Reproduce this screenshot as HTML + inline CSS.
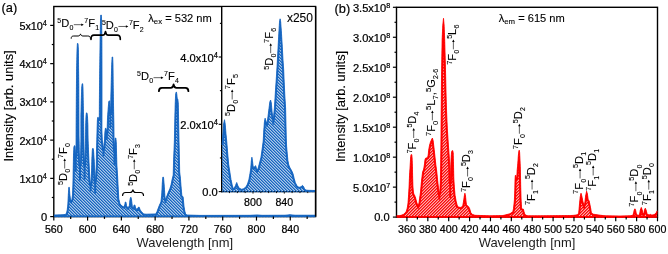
<!DOCTYPE html>
<html><head><meta charset="utf-8"><title>Spectra</title>
<style>html,body{margin:0;padding:0;background:#fff;}svg{display:block;will-change:transform;}text{font-family:"Liberation Sans", sans-serif;}</style>
</head><body>
<svg width="668" height="254" viewBox="0 0 668 254">
<defs>
<pattern id="hb" width="3" height="3" patternUnits="userSpaceOnUse" shape-rendering="crispEdges"><rect x="0" y="0" width="1.02" height="1.02" fill="rgb(21,101,192)"/><rect x="1" y="0" width="1.02" height="1.02" fill="rgba(21,101,192,0.684)"/><rect x="2" y="0" width="1.02" height="1.02" fill="rgba(21,101,192,0.363)"/><rect x="0" y="1" width="1.02" height="1.02" fill="rgba(21,101,192,0.363)"/><rect x="1" y="1" width="1.02" height="1.02" fill="rgb(21,101,192)"/><rect x="2" y="1" width="1.02" height="1.02" fill="rgba(21,101,192,0.684)"/><rect x="0" y="2" width="1.02" height="1.02" fill="rgba(21,101,192,0.684)"/><rect x="1" y="2" width="1.02" height="1.02" fill="rgba(21,101,192,0.363)"/><rect x="2" y="2" width="1.02" height="1.02" fill="rgb(21,101,192)"/></pattern>
<pattern id="hr" width="3" height="3" patternUnits="userSpaceOnUse" shape-rendering="crispEdges"><rect x="0" y="0" width="1.02" height="1.02" fill="rgb(250,10,10)"/><rect x="1" y="0" width="1.02" height="1.02" fill="rgba(250,10,10,0.714)"/><rect x="2" y="0" width="1.02" height="1.02" fill="rgba(250,10,10,0.347)"/><rect x="0" y="1" width="1.02" height="1.02" fill="rgba(250,10,10,0.714)"/><rect x="1" y="1" width="1.02" height="1.02" fill="rgba(250,10,10,0.347)"/><rect x="2" y="1" width="1.02" height="1.02" fill="rgb(250,10,10)"/><rect x="0" y="2" width="1.02" height="1.02" fill="rgba(250,10,10,0.347)"/><rect x="1" y="2" width="1.02" height="1.02" fill="rgb(250,10,10)"/><rect x="2" y="2" width="1.02" height="1.02" fill="rgba(250,10,10,0.714)"/></pattern>
</defs>
<rect width="668" height="254" fill="#fff"/>
<rect x="53.80" y="6.50" width="261.80" height="210.10" fill="none" stroke="#000000" stroke-width="1.4"/>
<clipPath id="cp1"><polygon points="54.0,217.3 54.0,215.0 62.0,214.8 65.5,214.4 66.5,213.0 67.2,210.0 67.8,205.0 68.3,195.0 68.8,187.3 69.3,187.3 69.9,195.0 70.5,199.5 71.2,200.4 71.9,199.5 72.5,195.0 72.9,185.0 73.2,170.0 73.5,155.0 73.9,147.0 74.3,145.8 75.0,145.8 75.3,150.0 75.7,157.0 76.0,150.0 76.1,130.0 76.3,100.0 76.6,70.0 77.0,50.0 77.4,43.5 78.0,43.5 78.4,50.0 78.6,70.0 78.8,85.0 78.9,110.0 79.0,135.0 79.3,152.0 80.0,165.7 80.6,155.0 80.9,140.0 80.9,115.0 81.3,100.0 81.7,88.0 82.1,83.8 82.7,83.8 83.0,88.0 83.2,100.0 83.5,115.0 83.8,135.0 84.1,152.0 84.6,164.8 85.1,155.0 85.5,140.0 85.7,125.0 86.0,116.0 86.4,112.9 87.0,112.9 87.5,117.0 87.9,125.0 88.1,140.0 88.6,153.0 89.2,166.0 89.7,176.0 90.2,182.0 90.6,184.6 91.1,180.0 91.6,170.0 91.9,158.0 92.3,150.0 92.6,148.5 93.2,148.5 93.6,151.0 94.2,160.0 94.7,172.0 95.2,181.4 95.7,175.0 96.3,165.0 96.5,150.0 96.8,140.0 97.1,128.0 97.4,120.0 97.7,117.4 98.3,117.4 98.8,119.5 99.3,117.0 99.4,100.0 99.7,70.0 100.1,40.0 100.5,20.0 100.8,15.0 101.3,15.0 101.6,20.0 101.9,40.0 102.0,80.0 102.0,110.0 101.9,130.0 102.3,140.0 103.5,149.5 104.5,140.0 104.9,132.0 105.4,128.3 106.0,128.3 106.4,130.0 106.8,133.0 107.2,128.0 107.5,118.0 108.2,108.0 108.8,101.5 109.2,100.7 109.6,101.0 110.0,106.0 110.4,113.0 110.7,106.0 110.9,95.0 111.3,80.0 111.7,65.0 112.1,57.0 112.7,57.0 113.0,65.0 113.2,85.0 113.5,105.0 113.9,125.0 114.1,140.0 114.5,150.0 114.8,143.0 115.2,138.1 115.9,138.1 116.3,143.0 116.6,155.0 116.9,165.0 117.6,176.0 118.2,188.0 118.8,199.0 119.9,203.5 121.2,205.3 122.9,206.5 124.0,207.0 124.8,204.5 125.3,202.0 125.9,202.0 126.5,205.5 127.8,208.0 129.3,206.0 130.0,199.5 130.5,197.5 131.1,197.5 131.7,201.0 132.4,207.0 133.3,208.0 134.1,205.0 134.9,205.0 135.6,208.0 137.0,209.5 138.4,207.2 139.2,207.2 140.0,209.5 141.5,211.8 143.8,213.9 146.0,214.2 155.7,213.9 157.0,211.5 158.0,208.7 159.5,205.0 160.9,202.0 161.7,195.0 162.3,183.0 162.8,177.2 163.5,177.2 164.1,184.0 164.9,196.0 165.4,199.7 166.3,197.5 168.0,193.0 169.9,188.5 171.0,185.0 172.0,180.0 173.2,175.0 173.6,160.0 174.4,140.0 174.9,115.0 175.2,104.0 175.6,95.0 176.0,92.2 176.5,92.2 176.9,95.0 177.3,99.2 177.9,99.2 178.3,104.0 178.6,120.0 179.0,140.0 179.7,172.0 180.4,178.0 181.0,186.0 181.9,196.0 183.1,196.7 183.6,202.0 184.1,207.0 184.8,211.0 185.6,214.0 187.0,215.0 200.0,215.4 250.0,215.3 257.0,214.9 262.0,215.3 285.0,215.2 290.0,214.7 295.0,215.2 315.6,215.2 315.6,217.3"/></clipPath>
<polygon points="54.0,217.3 54.0,215.0 62.0,214.8 65.5,214.4 66.5,213.0 67.2,210.0 67.8,205.0 68.3,195.0 68.8,187.3 69.3,187.3 69.9,195.0 70.5,199.5 71.2,200.4 71.9,199.5 72.5,195.0 72.9,185.0 73.2,170.0 73.5,155.0 73.9,147.0 74.3,145.8 75.0,145.8 75.3,150.0 75.7,157.0 76.0,150.0 76.1,130.0 76.3,100.0 76.6,70.0 77.0,50.0 77.4,43.5 78.0,43.5 78.4,50.0 78.6,70.0 78.8,85.0 78.9,110.0 79.0,135.0 79.3,152.0 80.0,165.7 80.6,155.0 80.9,140.0 80.9,115.0 81.3,100.0 81.7,88.0 82.1,83.8 82.7,83.8 83.0,88.0 83.2,100.0 83.5,115.0 83.8,135.0 84.1,152.0 84.6,164.8 85.1,155.0 85.5,140.0 85.7,125.0 86.0,116.0 86.4,112.9 87.0,112.9 87.5,117.0 87.9,125.0 88.1,140.0 88.6,153.0 89.2,166.0 89.7,176.0 90.2,182.0 90.6,184.6 91.1,180.0 91.6,170.0 91.9,158.0 92.3,150.0 92.6,148.5 93.2,148.5 93.6,151.0 94.2,160.0 94.7,172.0 95.2,181.4 95.7,175.0 96.3,165.0 96.5,150.0 96.8,140.0 97.1,128.0 97.4,120.0 97.7,117.4 98.3,117.4 98.8,119.5 99.3,117.0 99.4,100.0 99.7,70.0 100.1,40.0 100.5,20.0 100.8,15.0 101.3,15.0 101.6,20.0 101.9,40.0 102.0,80.0 102.0,110.0 101.9,130.0 102.3,140.0 103.5,149.5 104.5,140.0 104.9,132.0 105.4,128.3 106.0,128.3 106.4,130.0 106.8,133.0 107.2,128.0 107.5,118.0 108.2,108.0 108.8,101.5 109.2,100.7 109.6,101.0 110.0,106.0 110.4,113.0 110.7,106.0 110.9,95.0 111.3,80.0 111.7,65.0 112.1,57.0 112.7,57.0 113.0,65.0 113.2,85.0 113.5,105.0 113.9,125.0 114.1,140.0 114.5,150.0 114.8,143.0 115.2,138.1 115.9,138.1 116.3,143.0 116.6,155.0 116.9,165.0 117.6,176.0 118.2,188.0 118.8,199.0 119.9,203.5 121.2,205.3 122.9,206.5 124.0,207.0 124.8,204.5 125.3,202.0 125.9,202.0 126.5,205.5 127.8,208.0 129.3,206.0 130.0,199.5 130.5,197.5 131.1,197.5 131.7,201.0 132.4,207.0 133.3,208.0 134.1,205.0 134.9,205.0 135.6,208.0 137.0,209.5 138.4,207.2 139.2,207.2 140.0,209.5 141.5,211.8 143.8,213.9 146.0,214.2 155.7,213.9 157.0,211.5 158.0,208.7 159.5,205.0 160.9,202.0 161.7,195.0 162.3,183.0 162.8,177.2 163.5,177.2 164.1,184.0 164.9,196.0 165.4,199.7 166.3,197.5 168.0,193.0 169.9,188.5 171.0,185.0 172.0,180.0 173.2,175.0 173.6,160.0 174.4,140.0 174.9,115.0 175.2,104.0 175.6,95.0 176.0,92.2 176.5,92.2 176.9,95.0 177.3,99.2 177.9,99.2 178.3,104.0 178.6,120.0 179.0,140.0 179.7,172.0 180.4,178.0 181.0,186.0 181.9,196.0 183.1,196.7 183.6,202.0 184.1,207.0 184.8,211.0 185.6,214.0 187.0,215.0 200.0,215.4 250.0,215.3 257.0,214.9 262.0,215.3 285.0,215.2 290.0,214.7 295.0,215.2 315.6,215.2 315.6,217.3" fill="url(#hb)" stroke="none"/>
<polyline clip-path="url(#cp1)" points="54.0,215.0 62.0,214.8 65.5,214.4 66.5,213.0 67.2,210.0 67.8,205.0 68.3,195.0 68.8,187.3 69.3,187.3 69.9,195.0 70.5,199.5 71.2,200.4 71.9,199.5 72.5,195.0 72.9,185.0 73.2,170.0 73.5,155.0 73.9,147.0 74.3,145.8 75.0,145.8 75.3,150.0 75.7,157.0 76.0,150.0 76.1,130.0 76.3,100.0 76.6,70.0 77.0,50.0 77.4,43.5 78.0,43.5 78.4,50.0 78.6,70.0 78.8,85.0 78.9,110.0 79.0,135.0 79.3,152.0 80.0,165.7 80.6,155.0 80.9,140.0 80.9,115.0 81.3,100.0 81.7,88.0 82.1,83.8 82.7,83.8 83.0,88.0 83.2,100.0 83.5,115.0 83.8,135.0 84.1,152.0 84.6,164.8 85.1,155.0 85.5,140.0 85.7,125.0 86.0,116.0 86.4,112.9 87.0,112.9 87.5,117.0 87.9,125.0 88.1,140.0 88.6,153.0 89.2,166.0 89.7,176.0 90.2,182.0 90.6,184.6 91.1,180.0 91.6,170.0 91.9,158.0 92.3,150.0 92.6,148.5 93.2,148.5 93.6,151.0 94.2,160.0 94.7,172.0 95.2,181.4 95.7,175.0 96.3,165.0 96.5,150.0 96.8,140.0 97.1,128.0 97.4,120.0 97.7,117.4 98.3,117.4 98.8,119.5 99.3,117.0 99.4,100.0 99.7,70.0 100.1,40.0 100.5,20.0 100.8,15.0 101.3,15.0 101.6,20.0 101.9,40.0 102.0,80.0 102.0,110.0 101.9,130.0 102.3,140.0 103.5,149.5 104.5,140.0 104.9,132.0 105.4,128.3 106.0,128.3 106.4,130.0 106.8,133.0 107.2,128.0 107.5,118.0 108.2,108.0 108.8,101.5 109.2,100.7 109.6,101.0 110.0,106.0 110.4,113.0 110.7,106.0 110.9,95.0 111.3,80.0 111.7,65.0 112.1,57.0 112.7,57.0 113.0,65.0 113.2,85.0 113.5,105.0 113.9,125.0 114.1,140.0 114.5,150.0 114.8,143.0 115.2,138.1 115.9,138.1 116.3,143.0 116.6,155.0 116.9,165.0 117.6,176.0 118.2,188.0 118.8,199.0 119.9,203.5 121.2,205.3 122.9,206.5 124.0,207.0 124.8,204.5 125.3,202.0 125.9,202.0 126.5,205.5 127.8,208.0 129.3,206.0 130.0,199.5 130.5,197.5 131.1,197.5 131.7,201.0 132.4,207.0 133.3,208.0 134.1,205.0 134.9,205.0 135.6,208.0 137.0,209.5 138.4,207.2 139.2,207.2 140.0,209.5 141.5,211.8 143.8,213.9 146.0,214.2 155.7,213.9 157.0,211.5 158.0,208.7 159.5,205.0 160.9,202.0 161.7,195.0 162.3,183.0 162.8,177.2 163.5,177.2 164.1,184.0 164.9,196.0 165.4,199.7 166.3,197.5 168.0,193.0 169.9,188.5 171.0,185.0 172.0,180.0 173.2,175.0 173.6,160.0 174.4,140.0 174.9,115.0 175.2,104.0 175.6,95.0 176.0,92.2 176.5,92.2 176.9,95.0 177.3,99.2 177.9,99.2 178.3,104.0 178.6,120.0 179.0,140.0 179.7,172.0 180.4,178.0 181.0,186.0 181.9,196.0 183.1,196.7 183.6,202.0 184.1,207.0 184.8,211.0 185.6,214.0 187.0,215.0 200.0,215.4 250.0,215.3 257.0,214.9 262.0,215.3 285.0,215.2 290.0,214.7 295.0,215.2 315.6,215.2" fill="none" stroke="#1565c0" stroke-width="3.2" stroke-linejoin="round"/>
<polyline points="54.0,215.0 62.0,214.8 65.5,214.4 66.5,213.0 67.2,210.0 67.8,205.0 68.3,195.0 68.8,187.3 69.3,187.3 69.9,195.0 70.5,199.5 71.2,200.4 71.9,199.5 72.5,195.0 72.9,185.0 73.2,170.0 73.5,155.0 73.9,147.0 74.3,145.8 75.0,145.8 75.3,150.0 75.7,157.0 76.0,150.0 76.1,130.0 76.3,100.0 76.6,70.0 77.0,50.0 77.4,43.5 78.0,43.5 78.4,50.0 78.6,70.0 78.8,85.0 78.9,110.0 79.0,135.0 79.3,152.0 80.0,165.7 80.6,155.0 80.9,140.0 80.9,115.0 81.3,100.0 81.7,88.0 82.1,83.8 82.7,83.8 83.0,88.0 83.2,100.0 83.5,115.0 83.8,135.0 84.1,152.0 84.6,164.8 85.1,155.0 85.5,140.0 85.7,125.0 86.0,116.0 86.4,112.9 87.0,112.9 87.5,117.0 87.9,125.0 88.1,140.0 88.6,153.0 89.2,166.0 89.7,176.0 90.2,182.0 90.6,184.6 91.1,180.0 91.6,170.0 91.9,158.0 92.3,150.0 92.6,148.5 93.2,148.5 93.6,151.0 94.2,160.0 94.7,172.0 95.2,181.4 95.7,175.0 96.3,165.0 96.5,150.0 96.8,140.0 97.1,128.0 97.4,120.0 97.7,117.4 98.3,117.4 98.8,119.5 99.3,117.0 99.4,100.0 99.7,70.0 100.1,40.0 100.5,20.0 100.8,15.0 101.3,15.0 101.6,20.0 101.9,40.0 102.0,80.0 102.0,110.0 101.9,130.0 102.3,140.0 103.5,149.5 104.5,140.0 104.9,132.0 105.4,128.3 106.0,128.3 106.4,130.0 106.8,133.0 107.2,128.0 107.5,118.0 108.2,108.0 108.8,101.5 109.2,100.7 109.6,101.0 110.0,106.0 110.4,113.0 110.7,106.0 110.9,95.0 111.3,80.0 111.7,65.0 112.1,57.0 112.7,57.0 113.0,65.0 113.2,85.0 113.5,105.0 113.9,125.0 114.1,140.0 114.5,150.0 114.8,143.0 115.2,138.1 115.9,138.1 116.3,143.0 116.6,155.0 116.9,165.0 117.6,176.0 118.2,188.0 118.8,199.0 119.9,203.5 121.2,205.3 122.9,206.5 124.0,207.0 124.8,204.5 125.3,202.0 125.9,202.0 126.5,205.5 127.8,208.0 129.3,206.0 130.0,199.5 130.5,197.5 131.1,197.5 131.7,201.0 132.4,207.0 133.3,208.0 134.1,205.0 134.9,205.0 135.6,208.0 137.0,209.5 138.4,207.2 139.2,207.2 140.0,209.5 141.5,211.8 143.8,213.9 146.0,214.2 155.7,213.9 157.0,211.5 158.0,208.7 159.5,205.0 160.9,202.0 161.7,195.0 162.3,183.0 162.8,177.2 163.5,177.2 164.1,184.0 164.9,196.0 165.4,199.7 166.3,197.5 168.0,193.0 169.9,188.5 171.0,185.0 172.0,180.0 173.2,175.0 173.6,160.0 174.4,140.0 174.9,115.0 175.2,104.0 175.6,95.0 176.0,92.2 176.5,92.2 176.9,95.0 177.3,99.2 177.9,99.2 178.3,104.0 178.6,120.0 179.0,140.0 179.7,172.0 180.4,178.0 181.0,186.0 181.9,196.0 183.1,196.7 183.6,202.0 184.1,207.0 184.8,211.0 185.6,214.0 187.0,215.0 200.0,215.4 250.0,215.3 257.0,214.9 262.0,215.3 285.0,215.2 290.0,214.7 295.0,215.2 315.6,215.2" fill="none" stroke="#1565c0" stroke-width="0.8" stroke-linejoin="round"/>
<path clip-path="url(#cp1)" d="M71.2,200.7L71.2,202.5M75.7,157.3L75.7,171.0M80.0,166.0L80.0,179.7M84.6,165.1L84.6,178.8M90.6,184.9L90.6,190.5M95.2,181.7L95.2,192.8M103.5,149.8L103.5,155.6M106.8,133.3L106.8,138.9M110.4,113.3L110.4,127.0M114.5,150.3L114.5,164.0M165.4,200.0L165.4,201.9" fill="none" stroke="#1565c0" stroke-width="2.0" stroke-linecap="round"/>
<line x1="54.50" y1="216.30" x2="314.90" y2="216.30" stroke="#1565c0" stroke-width="1.6"/>
<rect x="221.70" y="7.20" width="93.20" height="185.10" fill="#fff"/>
<line x1="221.70" y1="6.50" x2="221.70" y2="192.30" stroke="#000000" stroke-width="1.4"/>
<line x1="221.00" y1="191.60" x2="315.60" y2="191.60" stroke="#000000" stroke-width="1.4"/>
<clipPath id="cp2"><polygon points="222.0,192.3 222.0,145.0 222.8,135.0 223.6,124.0 224.5,119.7 225.2,124.0 226.0,134.0 226.8,142.0 227.6,152.0 228.7,164.5 230.0,173.0 231.0,179.5 232.2,185.0 233.2,188.4 234.3,188.0 235.5,185.5 236.7,182.5 237.8,185.5 239.0,188.0 241.4,189.2 243.5,188.8 245.9,187.0 247.5,184.0 248.9,179.5 249.9,174.0 250.7,169.0 251.3,161.0 251.9,157.2 252.5,161.0 253.1,166.0 253.7,168.0 254.7,166.5 255.7,165.7 256.5,168.5 257.2,170.2 258.2,168.0 259.5,163.0 260.9,157.5 262.0,150.0 263.2,141.0 263.8,130.0 264.4,122.0 265.1,118.2 265.9,121.0 266.9,123.5 267.8,118.0 268.8,110.0 269.8,102.0 270.6,100.0 271.3,103.0 272.2,113.0 273.3,119.0 274.4,108.0 275.5,90.0 276.6,74.0 277.4,60.0 278.2,45.0 278.9,32.0 279.5,22.0 280.1,18.8 280.7,22.0 281.4,32.0 282.2,45.0 283.0,60.0 283.7,70.0 284.1,80.0 284.8,95.0 285.6,108.0 286.0,125.0 286.3,139.0 286.6,146.0 287.2,153.0 287.9,160.5 288.8,165.0 290.1,168.0 291.2,169.8 292.3,172.0 293.1,174.0 294.2,178.5 295.3,182.5 296.8,185.5 298.3,187.0 300.0,187.3 301.5,186.3 302.5,185.4 303.5,186.5 304.6,188.8 305.8,190.0 308.0,190.3 315.6,190.5 315.6,192.3"/></clipPath>
<polygon points="222.0,192.3 222.0,145.0 222.8,135.0 223.6,124.0 224.5,119.7 225.2,124.0 226.0,134.0 226.8,142.0 227.6,152.0 228.7,164.5 230.0,173.0 231.0,179.5 232.2,185.0 233.2,188.4 234.3,188.0 235.5,185.5 236.7,182.5 237.8,185.5 239.0,188.0 241.4,189.2 243.5,188.8 245.9,187.0 247.5,184.0 248.9,179.5 249.9,174.0 250.7,169.0 251.3,161.0 251.9,157.2 252.5,161.0 253.1,166.0 253.7,168.0 254.7,166.5 255.7,165.7 256.5,168.5 257.2,170.2 258.2,168.0 259.5,163.0 260.9,157.5 262.0,150.0 263.2,141.0 263.8,130.0 264.4,122.0 265.1,118.2 265.9,121.0 266.9,123.5 267.8,118.0 268.8,110.0 269.8,102.0 270.6,100.0 271.3,103.0 272.2,113.0 273.3,119.0 274.4,108.0 275.5,90.0 276.6,74.0 277.4,60.0 278.2,45.0 278.9,32.0 279.5,22.0 280.1,18.8 280.7,22.0 281.4,32.0 282.2,45.0 283.0,60.0 283.7,70.0 284.1,80.0 284.8,95.0 285.6,108.0 286.0,125.0 286.3,139.0 286.6,146.0 287.2,153.0 287.9,160.5 288.8,165.0 290.1,168.0 291.2,169.8 292.3,172.0 293.1,174.0 294.2,178.5 295.3,182.5 296.8,185.5 298.3,187.0 300.0,187.3 301.5,186.3 302.5,185.4 303.5,186.5 304.6,188.8 305.8,190.0 308.0,190.3 315.6,190.5 315.6,192.3" fill="url(#hb)" stroke="none"/>
<polyline clip-path="url(#cp2)" points="222.0,145.0 222.8,135.0 223.6,124.0 224.5,119.7 225.2,124.0 226.0,134.0 226.8,142.0 227.6,152.0 228.7,164.5 230.0,173.0 231.0,179.5 232.2,185.0 233.2,188.4 234.3,188.0 235.5,185.5 236.7,182.5 237.8,185.5 239.0,188.0 241.4,189.2 243.5,188.8 245.9,187.0 247.5,184.0 248.9,179.5 249.9,174.0 250.7,169.0 251.3,161.0 251.9,157.2 252.5,161.0 253.1,166.0 253.7,168.0 254.7,166.5 255.7,165.7 256.5,168.5 257.2,170.2 258.2,168.0 259.5,163.0 260.9,157.5 262.0,150.0 263.2,141.0 263.8,130.0 264.4,122.0 265.1,118.2 265.9,121.0 266.9,123.5 267.8,118.0 268.8,110.0 269.8,102.0 270.6,100.0 271.3,103.0 272.2,113.0 273.3,119.0 274.4,108.0 275.5,90.0 276.6,74.0 277.4,60.0 278.2,45.0 278.9,32.0 279.5,22.0 280.1,18.8 280.7,22.0 281.4,32.0 282.2,45.0 283.0,60.0 283.7,70.0 284.1,80.0 284.8,95.0 285.6,108.0 286.0,125.0 286.3,139.0 286.6,146.0 287.2,153.0 287.9,160.5 288.8,165.0 290.1,168.0 291.2,169.8 292.3,172.0 293.1,174.0 294.2,178.5 295.3,182.5 296.8,185.5 298.3,187.0 300.0,187.3 301.5,186.3 302.5,185.4 303.5,186.5 304.6,188.8 305.8,190.0 308.0,190.3 315.6,190.5" fill="none" stroke="#1565c0" stroke-width="3.2" stroke-linejoin="round"/>
<polyline points="222.0,145.0 222.8,135.0 223.6,124.0 224.5,119.7 225.2,124.0 226.0,134.0 226.8,142.0 227.6,152.0 228.7,164.5 230.0,173.0 231.0,179.5 232.2,185.0 233.2,188.4 234.3,188.0 235.5,185.5 236.7,182.5 237.8,185.5 239.0,188.0 241.4,189.2 243.5,188.8 245.9,187.0 247.5,184.0 248.9,179.5 249.9,174.0 250.7,169.0 251.3,161.0 251.9,157.2 252.5,161.0 253.1,166.0 253.7,168.0 254.7,166.5 255.7,165.7 256.5,168.5 257.2,170.2 258.2,168.0 259.5,163.0 260.9,157.5 262.0,150.0 263.2,141.0 263.8,130.0 264.4,122.0 265.1,118.2 265.9,121.0 266.9,123.5 267.8,118.0 268.8,110.0 269.8,102.0 270.6,100.0 271.3,103.0 272.2,113.0 273.3,119.0 274.4,108.0 275.5,90.0 276.6,74.0 277.4,60.0 278.2,45.0 278.9,32.0 279.5,22.0 280.1,18.8 280.7,22.0 281.4,32.0 282.2,45.0 283.0,60.0 283.7,70.0 284.1,80.0 284.8,95.0 285.6,108.0 286.0,125.0 286.3,139.0 286.6,146.0 287.2,153.0 287.9,160.5 288.8,165.0 290.1,168.0 291.2,169.8 292.3,172.0 293.1,174.0 294.2,178.5 295.3,182.5 296.8,185.5 298.3,187.0 300.0,187.3 301.5,186.3 302.5,185.4 303.5,186.5 304.6,188.8 305.8,190.0 308.0,190.3 315.6,190.5" fill="none" stroke="#1565c0" stroke-width="0.8" stroke-linejoin="round"/>
<path clip-path="url(#cp2)" d="M257.2,170.5L257.2,171.7M266.9,123.8L266.9,125.8M273.3,119.3L273.3,123.8" fill="none" stroke="#1565c0" stroke-width="2.0" stroke-linecap="round"/>
<line x1="315.60" y1="6.50" x2="315.60" y2="216.60" stroke="#000000" stroke-width="1.4"/>
<line x1="53.80" y1="216.60" x2="53.80" y2="220.60" stroke="#000000" stroke-width="1.2"/>
<g transform="translate(53.80 232.60) scale(1.035 1)" fill="#000000" stroke="#000000" stroke-width="0.22"><text xml:space="preserve" x="-8.59" y="0.00" font-size="10.30">560</text></g>
<line x1="70.69" y1="216.60" x2="70.69" y2="218.90" stroke="#000000" stroke-width="1.2"/>
<line x1="87.58" y1="216.60" x2="87.58" y2="220.60" stroke="#000000" stroke-width="1.2"/>
<g transform="translate(87.58 232.60) scale(1.035 1)" fill="#000000" stroke="#000000" stroke-width="0.22"><text xml:space="preserve" x="-8.59" y="0.00" font-size="10.30">600</text></g>
<line x1="104.47" y1="216.60" x2="104.47" y2="218.90" stroke="#000000" stroke-width="1.2"/>
<line x1="121.36" y1="216.60" x2="121.36" y2="220.60" stroke="#000000" stroke-width="1.2"/>
<g transform="translate(121.36 232.60) scale(1.035 1)" fill="#000000" stroke="#000000" stroke-width="0.22"><text xml:space="preserve" x="-8.59" y="0.00" font-size="10.30">640</text></g>
<line x1="138.25" y1="216.60" x2="138.25" y2="218.90" stroke="#000000" stroke-width="1.2"/>
<line x1="155.14" y1="216.60" x2="155.14" y2="220.60" stroke="#000000" stroke-width="1.2"/>
<g transform="translate(155.14 232.60) scale(1.035 1)" fill="#000000" stroke="#000000" stroke-width="0.22"><text xml:space="preserve" x="-8.59" y="0.00" font-size="10.30">680</text></g>
<line x1="172.03" y1="216.60" x2="172.03" y2="218.90" stroke="#000000" stroke-width="1.2"/>
<line x1="188.92" y1="216.60" x2="188.92" y2="220.60" stroke="#000000" stroke-width="1.2"/>
<g transform="translate(188.92 232.60) scale(1.035 1)" fill="#000000" stroke="#000000" stroke-width="0.22"><text xml:space="preserve" x="-8.59" y="0.00" font-size="10.30">720</text></g>
<line x1="205.81" y1="216.60" x2="205.81" y2="218.90" stroke="#000000" stroke-width="1.2"/>
<line x1="222.70" y1="216.60" x2="222.70" y2="220.60" stroke="#000000" stroke-width="1.2"/>
<g transform="translate(222.70 232.60) scale(1.035 1)" fill="#000000" stroke="#000000" stroke-width="0.22"><text xml:space="preserve" x="-8.59" y="0.00" font-size="10.30">760</text></g>
<line x1="239.59" y1="216.60" x2="239.59" y2="218.90" stroke="#000000" stroke-width="1.2"/>
<line x1="256.48" y1="216.60" x2="256.48" y2="220.60" stroke="#000000" stroke-width="1.2"/>
<g transform="translate(256.48 232.60) scale(1.035 1)" fill="#000000" stroke="#000000" stroke-width="0.22"><text xml:space="preserve" x="-8.59" y="0.00" font-size="10.30">800</text></g>
<line x1="273.37" y1="216.60" x2="273.37" y2="218.90" stroke="#000000" stroke-width="1.2"/>
<line x1="290.26" y1="216.60" x2="290.26" y2="220.60" stroke="#000000" stroke-width="1.2"/>
<g transform="translate(290.26 232.60) scale(1.035 1)" fill="#000000" stroke="#000000" stroke-width="0.22"><text xml:space="preserve" x="-8.59" y="0.00" font-size="10.30">840</text></g>
<line x1="307.15" y1="216.60" x2="307.15" y2="218.90" stroke="#000000" stroke-width="1.2"/>
<line x1="50.20" y1="216.60" x2="53.80" y2="216.60" stroke="#000000" stroke-width="1.2"/>
<g transform="translate(47.30 220.60) scale(1.08 1)" fill="#000000" stroke="#000000" stroke-width="0.22"><text xml:space="preserve" x="-5.73" y="0.00" font-size="10.30">0</text></g>
<line x1="51.80" y1="197.48" x2="53.80" y2="197.48" stroke="#000000" stroke-width="1.2"/>
<line x1="50.20" y1="178.36" x2="53.80" y2="178.36" stroke="#000000" stroke-width="1.2"/>
<g transform="translate(46.90 182.76) scale(1.05 1)" fill="#000000" stroke="#000000" stroke-width="0.22"><text xml:space="preserve" x="-26.18" y="0.00" font-size="10.30">1x10</text><text xml:space="preserve" transform="translate(-3.85 -3.60) scale(0.840 1)" font-size="8.24">4</text></g>
<line x1="51.80" y1="159.24" x2="53.80" y2="159.24" stroke="#000000" stroke-width="1.2"/>
<line x1="50.20" y1="140.12" x2="53.80" y2="140.12" stroke="#000000" stroke-width="1.2"/>
<g transform="translate(46.90 144.52) scale(1.05 1)" fill="#000000" stroke="#000000" stroke-width="0.22"><text xml:space="preserve" x="-26.18" y="0.00" font-size="10.30">2x10</text><text xml:space="preserve" transform="translate(-3.85 -3.60) scale(0.840 1)" font-size="8.24">4</text></g>
<line x1="51.80" y1="121.00" x2="53.80" y2="121.00" stroke="#000000" stroke-width="1.2"/>
<line x1="50.20" y1="101.88" x2="53.80" y2="101.88" stroke="#000000" stroke-width="1.2"/>
<g transform="translate(46.90 106.28) scale(1.05 1)" fill="#000000" stroke="#000000" stroke-width="0.22"><text xml:space="preserve" x="-26.18" y="0.00" font-size="10.30">3x10</text><text xml:space="preserve" transform="translate(-3.85 -3.60) scale(0.840 1)" font-size="8.24">4</text></g>
<line x1="51.80" y1="82.76" x2="53.80" y2="82.76" stroke="#000000" stroke-width="1.2"/>
<line x1="50.20" y1="63.64" x2="53.80" y2="63.64" stroke="#000000" stroke-width="1.2"/>
<g transform="translate(46.90 68.04) scale(1.05 1)" fill="#000000" stroke="#000000" stroke-width="0.22"><text xml:space="preserve" x="-26.18" y="0.00" font-size="10.30">4x10</text><text xml:space="preserve" transform="translate(-3.85 -3.60) scale(0.840 1)" font-size="8.24">4</text></g>
<line x1="51.80" y1="44.52" x2="53.80" y2="44.52" stroke="#000000" stroke-width="1.2"/>
<line x1="50.20" y1="25.40" x2="53.80" y2="25.40" stroke="#000000" stroke-width="1.2"/>
<g transform="translate(46.90 29.80) scale(1.05 1)" fill="#000000" stroke="#000000" stroke-width="0.22"><text xml:space="preserve" x="-26.18" y="0.00" font-size="10.30">5x10</text><text xml:space="preserve" transform="translate(-3.85 -3.60) scale(0.840 1)" font-size="8.24">4</text></g>
<line x1="229.52" y1="191.60" x2="229.52" y2="193.10" stroke="#000000" stroke-width="0.9"/>
<line x1="237.35" y1="191.60" x2="237.35" y2="193.10" stroke="#000000" stroke-width="0.9"/>
<line x1="245.18" y1="191.60" x2="245.18" y2="193.10" stroke="#000000" stroke-width="0.9"/>
<line x1="253.00" y1="191.60" x2="253.00" y2="193.60" stroke="#000000" stroke-width="0.9"/>
<g transform="translate(253.00 205.50) scale(1.035 1)" fill="#000000" stroke="#000000" stroke-width="0.22"><text xml:space="preserve" x="-8.59" y="0.00" font-size="10.30">800</text></g>
<line x1="260.82" y1="191.60" x2="260.82" y2="193.10" stroke="#000000" stroke-width="0.9"/>
<line x1="268.65" y1="191.60" x2="268.65" y2="193.10" stroke="#000000" stroke-width="0.9"/>
<line x1="276.48" y1="191.60" x2="276.48" y2="193.10" stroke="#000000" stroke-width="0.9"/>
<line x1="284.30" y1="191.60" x2="284.30" y2="193.60" stroke="#000000" stroke-width="0.9"/>
<g transform="translate(284.30 205.50) scale(1.035 1)" fill="#000000" stroke="#000000" stroke-width="0.22"><text xml:space="preserve" x="-8.59" y="0.00" font-size="10.30">840</text></g>
<line x1="292.12" y1="191.60" x2="292.12" y2="193.10" stroke="#000000" stroke-width="0.9"/>
<line x1="299.95" y1="191.60" x2="299.95" y2="193.10" stroke="#000000" stroke-width="0.9"/>
<line x1="307.78" y1="191.60" x2="307.78" y2="193.10" stroke="#000000" stroke-width="0.9"/>
<line x1="218.70" y1="191.60" x2="221.70" y2="191.60" stroke="#000000" stroke-width="1.1"/>
<g transform="translate(217.80 195.90) scale(1.08 1)" fill="#000000" stroke="#000000" stroke-width="0.22"><text xml:space="preserve" x="-14.32" y="0.00" font-size="10.30">0.0</text></g>
<line x1="219.90" y1="157.95" x2="221.70" y2="157.95" stroke="#000000" stroke-width="1.1"/>
<line x1="218.70" y1="124.30" x2="221.70" y2="124.30" stroke="#000000" stroke-width="1.1"/>
<g transform="translate(217.90 129.00) scale(1.08 1)" fill="#000000" stroke="#000000" stroke-width="0.22"><text xml:space="preserve" x="-34.77" y="0.00" font-size="10.30">2.0x10</text><text xml:space="preserve" transform="translate(-3.85 -3.60) scale(0.840 1)" font-size="8.24">4</text></g>
<line x1="219.90" y1="90.65" x2="221.70" y2="90.65" stroke="#000000" stroke-width="1.1"/>
<line x1="218.70" y1="57.00" x2="221.70" y2="57.00" stroke="#000000" stroke-width="1.1"/>
<g transform="translate(217.90 61.70) scale(1.08 1)" fill="#000000" stroke="#000000" stroke-width="0.22"><text xml:space="preserve" x="-34.77" y="0.00" font-size="10.30">4.0x10</text><text xml:space="preserve" transform="translate(-3.85 -3.60) scale(0.840 1)" font-size="8.24">4</text></g>
<line x1="219.90" y1="23.35" x2="221.70" y2="23.35" stroke="#000000" stroke-width="1.1"/>
<g transform="translate(184.85 247.30) scale(1.045 1)" fill="#1c1c1c"><text xml:space="preserve" x="-46.29" y="0.00" font-size="12.40">Wavelength [nm]</text></g>
<g transform="translate(13.00 105.90) rotate(-90) scale(1.036 1)" fill="#000000" stroke="#000000" stroke-width="0.12"><text xml:space="preserve" x="-53.76" y="0.00" font-size="12.40">Intensity [arb. units]</text></g>
<g transform="translate(1.60 12.40)" fill="#000000" stroke="#000000" stroke-width="0.2"><text xml:space="preserve" x="0.00" y="0.00" font-size="12.80">(a)</text></g>
<g transform="translate(286.90 21.80)" fill="#000000" stroke="#000000" stroke-width="0.1"><text xml:space="preserve" x="0.00" y="0.00" font-size="12.00">x250</text></g>
<g transform="translate(148.30 21.60) scale(1.08 1)" fill="#000000" stroke="#000000" stroke-width="0.1"><text xml:space="preserve" x="0.00" y="0.00" font-size="10.30">λ</text><text xml:space="preserve" x="5.15" y="2.58" font-size="7.21">ex</text><text xml:space="preserve" x="12.76" y="0.00" font-size="10.30"> = 532 nm</text></g>
<g transform="translate(57.30 27.20) scale(1.08 1)" fill="#000000" stroke="#000000" stroke-width="0.1"><text xml:space="preserve" transform="translate(0.00 -4.22) scale(0.930 1)" font-size="7.00">5</text><text xml:space="preserve" x="3.62" y="0.00" font-size="10.30">D</text><text xml:space="preserve" transform="translate(11.26 3.19) scale(0.930 1)" font-size="7.00">0</text><path d="M15.28,-2.52 L23.48,-2.52" fill="none" stroke="#2a2a2a" stroke-width="0.7"/><path d="M24.48,-2.52 L22.18,-3.77 L22.18,-1.27 Z" fill="#000000" stroke="none"/><text xml:space="preserve" transform="translate(24.98 -4.22) scale(0.930 1)" font-size="7.00">7</text><text xml:space="preserve" x="28.60" y="0.00" font-size="10.30">F</text><text xml:space="preserve" transform="translate(35.09 3.19) scale(0.930 1)" font-size="7.00">1</text></g>
<g transform="translate(101.90 29.00) scale(1.08 1)" fill="#000000" stroke="#000000" stroke-width="0.1"><text xml:space="preserve" transform="translate(0.00 -4.22) scale(0.930 1)" font-size="7.00">5</text><text xml:space="preserve" x="3.62" y="0.00" font-size="10.30">D</text><text xml:space="preserve" transform="translate(11.26 3.19) scale(0.930 1)" font-size="7.00">0</text><path d="M15.28,-2.52 L23.48,-2.52" fill="none" stroke="#2a2a2a" stroke-width="0.7"/><path d="M24.48,-2.52 L22.18,-3.77 L22.18,-1.27 Z" fill="#000000" stroke="none"/><text xml:space="preserve" transform="translate(24.98 -4.22) scale(0.930 1)" font-size="7.00">7</text><text xml:space="preserve" x="28.60" y="0.00" font-size="10.30">F</text><text xml:space="preserve" transform="translate(35.09 3.19) scale(0.930 1)" font-size="7.00">2</text></g>
<g transform="translate(137.00 80.20) scale(1.08 1)" fill="#000000" stroke="#000000" stroke-width="0.1"><text xml:space="preserve" transform="translate(0.00 -4.22) scale(0.930 1)" font-size="7.00">5</text><text xml:space="preserve" x="3.62" y="0.00" font-size="10.30">D</text><text xml:space="preserve" transform="translate(11.26 3.19) scale(0.930 1)" font-size="7.00">0</text><path d="M15.28,-2.52 L23.48,-2.52" fill="none" stroke="#2a2a2a" stroke-width="0.7"/><path d="M24.48,-2.52 L22.18,-3.77 L22.18,-1.27 Z" fill="#000000" stroke="none"/><text xml:space="preserve" transform="translate(24.98 -4.22) scale(0.930 1)" font-size="7.00">7</text><text xml:space="preserve" x="28.60" y="0.00" font-size="10.30">F</text><text xml:space="preserve" transform="translate(35.09 3.19) scale(0.930 1)" font-size="7.00">4</text></g>
<g transform="translate(67.20 185.00) rotate(-90) scale(1.08 1)" fill="#000000" stroke="#000000" stroke-width="0.1"><text xml:space="preserve" transform="translate(0.00 -4.22) scale(0.930 1)" font-size="7.00">5</text><text xml:space="preserve" x="3.62" y="0.00" font-size="10.30">D</text><text xml:space="preserve" transform="translate(11.26 3.19) scale(0.930 1)" font-size="7.00">0</text><path d="M15.28,-2.52 L23.48,-2.52" fill="none" stroke="#2a2a2a" stroke-width="0.7"/><path d="M24.48,-2.52 L22.18,-3.77 L22.18,-1.27 Z" fill="#000000" stroke="none"/><text xml:space="preserve" transform="translate(24.98 -4.22) scale(0.930 1)" font-size="7.00">7</text><text xml:space="preserve" x="28.60" y="0.00" font-size="10.30">F</text><text xml:space="preserve" transform="translate(35.09 3.19) scale(0.930 1)" font-size="7.00">0</text></g>
<g transform="translate(136.80 185.80) rotate(-90) scale(1.08 1)" fill="#000000" stroke="#000000" stroke-width="0.1"><text xml:space="preserve" transform="translate(0.00 -4.22) scale(0.930 1)" font-size="7.00">5</text><text xml:space="preserve" x="3.62" y="0.00" font-size="10.30">D</text><text xml:space="preserve" transform="translate(11.26 3.19) scale(0.930 1)" font-size="7.00">0</text><path d="M15.28,-2.52 L23.48,-2.52" fill="none" stroke="#2a2a2a" stroke-width="0.7"/><path d="M24.48,-2.52 L22.18,-3.77 L22.18,-1.27 Z" fill="#000000" stroke="none"/><text xml:space="preserve" transform="translate(24.98 -4.22) scale(0.930 1)" font-size="7.00">7</text><text xml:space="preserve" x="28.60" y="0.00" font-size="10.30">F</text><text xml:space="preserve" transform="translate(35.09 3.19) scale(0.930 1)" font-size="7.00">3</text></g>
<g transform="translate(234.70 116.00) rotate(-90) scale(1.08 1)" fill="#000000" stroke="#000000" stroke-width="0.1"><text xml:space="preserve" transform="translate(0.00 -4.22) scale(0.930 1)" font-size="7.00">5</text><text xml:space="preserve" x="3.62" y="0.00" font-size="10.30">D</text><text xml:space="preserve" transform="translate(11.26 3.19) scale(0.930 1)" font-size="7.00">0</text><path d="M15.28,-2.52 L23.48,-2.52" fill="none" stroke="#2a2a2a" stroke-width="0.7"/><path d="M24.48,-2.52 L22.18,-3.77 L22.18,-1.27 Z" fill="#000000" stroke="none"/><text xml:space="preserve" transform="translate(24.98 -4.22) scale(0.930 1)" font-size="7.00">7</text><text xml:space="preserve" x="28.60" y="0.00" font-size="10.30">F</text><text xml:space="preserve" transform="translate(35.09 3.19) scale(0.930 1)" font-size="7.00">5</text></g>
<g transform="translate(273.20 69.70) rotate(-90) scale(1.08 1)" fill="#000000" stroke="#000000" stroke-width="0.1"><text xml:space="preserve" transform="translate(0.00 -4.22) scale(0.930 1)" font-size="7.00">5</text><text xml:space="preserve" x="3.62" y="0.00" font-size="10.30">D</text><text xml:space="preserve" transform="translate(11.26 3.19) scale(0.930 1)" font-size="7.00">0</text><path d="M15.28,-2.52 L23.48,-2.52" fill="none" stroke="#2a2a2a" stroke-width="0.7"/><path d="M24.48,-2.52 L22.18,-3.77 L22.18,-1.27 Z" fill="#000000" stroke="none"/><text xml:space="preserve" transform="translate(24.98 -4.22) scale(0.930 1)" font-size="7.00">7</text><text xml:space="preserve" x="28.60" y="0.00" font-size="10.30">F</text><text xml:space="preserve" transform="translate(35.09 3.19) scale(0.930 1)" font-size="7.00">6</text></g>
<path d="M71.20,38.30 C71.20,36.60 72.10,36.00 73.80,36.00 L78.10,36.00 C79.42,36.00 80.15,35.27 80.50,33.90 C80.85,35.27 81.58,36.00 82.90,36.00 L87.80,36.00 C89.50,36.00 90.40,36.60 90.40,38.30" fill="none" stroke="#000000" stroke-width="1.0" stroke-linecap="round" stroke-linejoin="round"/>
<path d="M91.00,39.30 C91.00,35.70 91.90,35.10 94.00,35.10 L102.70,35.10 C104.24,35.10 105.15,33.88 105.50,31.60 C105.85,33.88 106.76,35.10 108.30,35.10 L117.30,35.10 C119.40,35.10 120.30,35.70 120.30,39.30" fill="none" stroke="#000000" stroke-width="1.7" stroke-linecap="round" stroke-linejoin="round"/>
<path d="M158.90,91.20 C158.90,88.40 159.80,87.80 161.90,87.80 L170.80,87.80 C172.34,87.80 173.25,86.58 173.60,84.30 C173.95,86.58 174.86,87.80 176.40,87.80 L185.40,87.80 C187.50,87.80 188.40,88.40 188.40,91.20" fill="none" stroke="#000000" stroke-width="1.8" stroke-linecap="round" stroke-linejoin="round"/>
<path d="M122.60,195.40 C122.60,193.10 123.50,192.50 125.60,192.50 L130.10,192.50 C131.64,192.50 132.55,191.59 132.90,189.90 C133.25,191.59 134.16,192.50 135.70,192.50 L140.50,192.50 C142.60,192.50 143.50,193.10 143.50,195.40" fill="none" stroke="#000000" stroke-width="1.2" stroke-linecap="round" stroke-linejoin="round"/>
<rect x="396.50" y="7.30" width="261.00" height="209.80" fill="none" stroke="#000000" stroke-width="1.4"/>
<clipPath id="cp3"><polygon points="396.5,217.8 396.5,215.8 400.0,215.6 401.6,215.1 403.5,214.5 405.0,212.7 406.1,212.0 407.0,209.0 407.6,206.0 408.0,203.0 408.6,195.0 409.1,186.0 409.5,176.0 410.2,165.0 410.6,158.0 411.0,154.7 411.8,154.7 412.1,158.0 412.4,166.0 412.6,176.0 412.9,186.0 413.3,191.0 413.8,194.0 414.7,195.5 415.6,198.0 416.8,202.5 418.1,206.0 419.0,203.0 419.8,197.0 420.5,192.0 421.2,184.0 421.9,177.5 422.6,172.0 423.7,169.0 424.5,164.0 425.0,159.5 425.6,158.2 427.6,157.6 428.2,155.0 428.7,150.0 429.4,146.0 430.3,142.5 431.4,140.0 432.4,138.0 433.2,141.0 434.2,149.5 435.0,157.0 435.8,164.5 436.8,172.0 437.6,180.0 438.5,188.0 439.3,194.0 439.9,190.0 440.3,183.0 440.6,170.0 440.9,146.0 441.2,110.0 441.5,78.0 442.1,40.0 442.8,25.0 443.5,18.3 444.1,25.0 444.7,40.0 445.3,62.0 445.7,78.0 446.2,100.0 446.6,112.0 447.4,130.0 448.4,145.0 449.2,156.0 449.9,168.0 450.2,183.0 450.6,172.0 451.0,160.0 451.5,152.5 452.0,150.7 452.8,150.7 453.2,153.0 453.5,165.0 453.8,178.0 454.4,188.0 455.1,195.5 456.2,201.5 457.4,206.0 458.8,207.2 460.4,207.4 461.8,207.0 462.8,205.5 463.6,201.0 464.3,196.0 464.9,193.2 465.5,196.0 466.0,201.0 466.4,204.4 467.3,205.8 468.6,206.7 469.6,208.5 470.9,212.7 472.5,214.5 475.0,215.3 490.0,215.8 502.5,215.6 506.0,214.8 510.0,213.7 511.8,212.5 512.9,211.4 513.5,208.5 514.0,204.0 514.4,200.0 514.8,190.0 515.0,180.0 515.3,175.5 515.9,175.5 516.3,179.0 516.8,177.0 517.2,170.0 517.7,165.0 518.3,156.0 518.8,151.5 519.2,150.2 519.6,152.0 520.0,160.0 520.4,170.0 520.7,186.0 521.1,200.0 521.6,208.5 522.5,209.0 523.4,209.2 524.1,212.0 524.9,214.4 526.2,215.3 527.9,215.8 540.0,215.8 569.8,215.6 574.0,215.3 577.3,214.8 578.2,213.8 578.7,213.0 579.5,204.0 580.2,197.0 581.0,193.2 581.8,196.0 582.8,201.0 584.0,205.5 584.8,203.0 585.6,196.0 586.6,191.2 587.4,194.0 588.2,199.5 589.2,201.0 590.0,205.0 590.8,209.0 591.4,213.0 593.4,214.2 597.0,214.8 605.0,215.8 620.0,216.0 630.0,215.8 632.8,215.3 633.6,213.0 634.2,210.0 634.9,208.8 635.6,210.0 636.3,213.5 637.2,215.1 638.8,215.3 639.6,214.0 640.3,210.0 641.3,207.4 642.2,210.0 643.0,213.5 643.5,214.0 644.0,212.5 644.6,209.5 645.3,208.2 646.1,210.0 647.0,213.5 648.0,214.8 649.5,214.8 650.6,214.4 651.8,215.1 653.5,214.8 655.2,214.0 656.3,212.5 657.3,210.7 657.3,217.8"/></clipPath>
<polygon points="396.5,217.8 396.5,215.8 400.0,215.6 401.6,215.1 403.5,214.5 405.0,212.7 406.1,212.0 407.0,209.0 407.6,206.0 408.0,203.0 408.6,195.0 409.1,186.0 409.5,176.0 410.2,165.0 410.6,158.0 411.0,154.7 411.8,154.7 412.1,158.0 412.4,166.0 412.6,176.0 412.9,186.0 413.3,191.0 413.8,194.0 414.7,195.5 415.6,198.0 416.8,202.5 418.1,206.0 419.0,203.0 419.8,197.0 420.5,192.0 421.2,184.0 421.9,177.5 422.6,172.0 423.7,169.0 424.5,164.0 425.0,159.5 425.6,158.2 427.6,157.6 428.2,155.0 428.7,150.0 429.4,146.0 430.3,142.5 431.4,140.0 432.4,138.0 433.2,141.0 434.2,149.5 435.0,157.0 435.8,164.5 436.8,172.0 437.6,180.0 438.5,188.0 439.3,194.0 439.9,190.0 440.3,183.0 440.6,170.0 440.9,146.0 441.2,110.0 441.5,78.0 442.1,40.0 442.8,25.0 443.5,18.3 444.1,25.0 444.7,40.0 445.3,62.0 445.7,78.0 446.2,100.0 446.6,112.0 447.4,130.0 448.4,145.0 449.2,156.0 449.9,168.0 450.2,183.0 450.6,172.0 451.0,160.0 451.5,152.5 452.0,150.7 452.8,150.7 453.2,153.0 453.5,165.0 453.8,178.0 454.4,188.0 455.1,195.5 456.2,201.5 457.4,206.0 458.8,207.2 460.4,207.4 461.8,207.0 462.8,205.5 463.6,201.0 464.3,196.0 464.9,193.2 465.5,196.0 466.0,201.0 466.4,204.4 467.3,205.8 468.6,206.7 469.6,208.5 470.9,212.7 472.5,214.5 475.0,215.3 490.0,215.8 502.5,215.6 506.0,214.8 510.0,213.7 511.8,212.5 512.9,211.4 513.5,208.5 514.0,204.0 514.4,200.0 514.8,190.0 515.0,180.0 515.3,175.5 515.9,175.5 516.3,179.0 516.8,177.0 517.2,170.0 517.7,165.0 518.3,156.0 518.8,151.5 519.2,150.2 519.6,152.0 520.0,160.0 520.4,170.0 520.7,186.0 521.1,200.0 521.6,208.5 522.5,209.0 523.4,209.2 524.1,212.0 524.9,214.4 526.2,215.3 527.9,215.8 540.0,215.8 569.8,215.6 574.0,215.3 577.3,214.8 578.2,213.8 578.7,213.0 579.5,204.0 580.2,197.0 581.0,193.2 581.8,196.0 582.8,201.0 584.0,205.5 584.8,203.0 585.6,196.0 586.6,191.2 587.4,194.0 588.2,199.5 589.2,201.0 590.0,205.0 590.8,209.0 591.4,213.0 593.4,214.2 597.0,214.8 605.0,215.8 620.0,216.0 630.0,215.8 632.8,215.3 633.6,213.0 634.2,210.0 634.9,208.8 635.6,210.0 636.3,213.5 637.2,215.1 638.8,215.3 639.6,214.0 640.3,210.0 641.3,207.4 642.2,210.0 643.0,213.5 643.5,214.0 644.0,212.5 644.6,209.5 645.3,208.2 646.1,210.0 647.0,213.5 648.0,214.8 649.5,214.8 650.6,214.4 651.8,215.1 653.5,214.8 655.2,214.0 656.3,212.5 657.3,210.7 657.3,217.8" fill="url(#hr)" stroke="none"/>
<polyline clip-path="url(#cp3)" points="396.5,215.8 400.0,215.6 401.6,215.1 403.5,214.5 405.0,212.7 406.1,212.0 407.0,209.0 407.6,206.0 408.0,203.0 408.6,195.0 409.1,186.0 409.5,176.0 410.2,165.0 410.6,158.0 411.0,154.7 411.8,154.7 412.1,158.0 412.4,166.0 412.6,176.0 412.9,186.0 413.3,191.0 413.8,194.0 414.7,195.5 415.6,198.0 416.8,202.5 418.1,206.0 419.0,203.0 419.8,197.0 420.5,192.0 421.2,184.0 421.9,177.5 422.6,172.0 423.7,169.0 424.5,164.0 425.0,159.5 425.6,158.2 427.6,157.6 428.2,155.0 428.7,150.0 429.4,146.0 430.3,142.5 431.4,140.0 432.4,138.0 433.2,141.0 434.2,149.5 435.0,157.0 435.8,164.5 436.8,172.0 437.6,180.0 438.5,188.0 439.3,194.0 439.9,190.0 440.3,183.0 440.6,170.0 440.9,146.0 441.2,110.0 441.5,78.0 442.1,40.0 442.8,25.0 443.5,18.3 444.1,25.0 444.7,40.0 445.3,62.0 445.7,78.0 446.2,100.0 446.6,112.0 447.4,130.0 448.4,145.0 449.2,156.0 449.9,168.0 450.2,183.0 450.6,172.0 451.0,160.0 451.5,152.5 452.0,150.7 452.8,150.7 453.2,153.0 453.5,165.0 453.8,178.0 454.4,188.0 455.1,195.5 456.2,201.5 457.4,206.0 458.8,207.2 460.4,207.4 461.8,207.0 462.8,205.5 463.6,201.0 464.3,196.0 464.9,193.2 465.5,196.0 466.0,201.0 466.4,204.4 467.3,205.8 468.6,206.7 469.6,208.5 470.9,212.7 472.5,214.5 475.0,215.3 490.0,215.8 502.5,215.6 506.0,214.8 510.0,213.7 511.8,212.5 512.9,211.4 513.5,208.5 514.0,204.0 514.4,200.0 514.8,190.0 515.0,180.0 515.3,175.5 515.9,175.5 516.3,179.0 516.8,177.0 517.2,170.0 517.7,165.0 518.3,156.0 518.8,151.5 519.2,150.2 519.6,152.0 520.0,160.0 520.4,170.0 520.7,186.0 521.1,200.0 521.6,208.5 522.5,209.0 523.4,209.2 524.1,212.0 524.9,214.4 526.2,215.3 527.9,215.8 540.0,215.8 569.8,215.6 574.0,215.3 577.3,214.8 578.2,213.8 578.7,213.0 579.5,204.0 580.2,197.0 581.0,193.2 581.8,196.0 582.8,201.0 584.0,205.5 584.8,203.0 585.6,196.0 586.6,191.2 587.4,194.0 588.2,199.5 589.2,201.0 590.0,205.0 590.8,209.0 591.4,213.0 593.4,214.2 597.0,214.8 605.0,215.8 620.0,216.0 630.0,215.8 632.8,215.3 633.6,213.0 634.2,210.0 634.9,208.8 635.6,210.0 636.3,213.5 637.2,215.1 638.8,215.3 639.6,214.0 640.3,210.0 641.3,207.4 642.2,210.0 643.0,213.5 643.5,214.0 644.0,212.5 644.6,209.5 645.3,208.2 646.1,210.0 647.0,213.5 648.0,214.8 649.5,214.8 650.6,214.4 651.8,215.1 653.5,214.8 655.2,214.0 656.3,212.5 657.3,210.7" fill="none" stroke="#ff0000" stroke-width="3.2" stroke-linejoin="round"/>
<polyline points="396.5,215.8 400.0,215.6 401.6,215.1 403.5,214.5 405.0,212.7 406.1,212.0 407.0,209.0 407.6,206.0 408.0,203.0 408.6,195.0 409.1,186.0 409.5,176.0 410.2,165.0 410.6,158.0 411.0,154.7 411.8,154.7 412.1,158.0 412.4,166.0 412.6,176.0 412.9,186.0 413.3,191.0 413.8,194.0 414.7,195.5 415.6,198.0 416.8,202.5 418.1,206.0 419.0,203.0 419.8,197.0 420.5,192.0 421.2,184.0 421.9,177.5 422.6,172.0 423.7,169.0 424.5,164.0 425.0,159.5 425.6,158.2 427.6,157.6 428.2,155.0 428.7,150.0 429.4,146.0 430.3,142.5 431.4,140.0 432.4,138.0 433.2,141.0 434.2,149.5 435.0,157.0 435.8,164.5 436.8,172.0 437.6,180.0 438.5,188.0 439.3,194.0 439.9,190.0 440.3,183.0 440.6,170.0 440.9,146.0 441.2,110.0 441.5,78.0 442.1,40.0 442.8,25.0 443.5,18.3 444.1,25.0 444.7,40.0 445.3,62.0 445.7,78.0 446.2,100.0 446.6,112.0 447.4,130.0 448.4,145.0 449.2,156.0 449.9,168.0 450.2,183.0 450.6,172.0 451.0,160.0 451.5,152.5 452.0,150.7 452.8,150.7 453.2,153.0 453.5,165.0 453.8,178.0 454.4,188.0 455.1,195.5 456.2,201.5 457.4,206.0 458.8,207.2 460.4,207.4 461.8,207.0 462.8,205.5 463.6,201.0 464.3,196.0 464.9,193.2 465.5,196.0 466.0,201.0 466.4,204.4 467.3,205.8 468.6,206.7 469.6,208.5 470.9,212.7 472.5,214.5 475.0,215.3 490.0,215.8 502.5,215.6 506.0,214.8 510.0,213.7 511.8,212.5 512.9,211.4 513.5,208.5 514.0,204.0 514.4,200.0 514.8,190.0 515.0,180.0 515.3,175.5 515.9,175.5 516.3,179.0 516.8,177.0 517.2,170.0 517.7,165.0 518.3,156.0 518.8,151.5 519.2,150.2 519.6,152.0 520.0,160.0 520.4,170.0 520.7,186.0 521.1,200.0 521.6,208.5 522.5,209.0 523.4,209.2 524.1,212.0 524.9,214.4 526.2,215.3 527.9,215.8 540.0,215.8 569.8,215.6 574.0,215.3 577.3,214.8 578.2,213.8 578.7,213.0 579.5,204.0 580.2,197.0 581.0,193.2 581.8,196.0 582.8,201.0 584.0,205.5 584.8,203.0 585.6,196.0 586.6,191.2 587.4,194.0 588.2,199.5 589.2,201.0 590.0,205.0 590.8,209.0 591.4,213.0 593.4,214.2 597.0,214.8 605.0,215.8 620.0,216.0 630.0,215.8 632.8,215.3 633.6,213.0 634.2,210.0 634.9,208.8 635.6,210.0 636.3,213.5 637.2,215.1 638.8,215.3 639.6,214.0 640.3,210.0 641.3,207.4 642.2,210.0 643.0,213.5 643.5,214.0 644.0,212.5 644.6,209.5 645.3,208.2 646.1,210.0 647.0,213.5 648.0,214.8 649.5,214.8 650.6,214.4 651.8,215.1 653.5,214.8 655.2,214.0 656.3,212.5 657.3,210.7" fill="none" stroke="#ff0000" stroke-width="0.8" stroke-linejoin="round"/>
<path clip-path="url(#cp3)" d="M418.1,206.3L418.1,207.8M439.3,194.3L439.3,198.8M450.2,183.3L450.2,197.0M584.0,205.8L584.0,207.8M643.5,214.3L643.5,216.0" fill="none" stroke="#ff0000" stroke-width="2.0" stroke-linecap="round"/>
<line x1="397.20" y1="216.90" x2="656.80" y2="216.90" stroke="#ff0000" stroke-width="1.7"/>
<line x1="406.94" y1="217.10" x2="406.94" y2="221.30" stroke="#000000" stroke-width="1.2"/>
<g transform="translate(406.94 232.90) scale(1.035 1)" fill="#000000" stroke="#000000" stroke-width="0.22"><text xml:space="preserve" x="-8.59" y="0.00" font-size="10.30">360</text></g>
<line x1="417.38" y1="217.10" x2="417.38" y2="219.50" stroke="#000000" stroke-width="1.2"/>
<line x1="427.82" y1="217.10" x2="427.82" y2="221.30" stroke="#000000" stroke-width="1.2"/>
<g transform="translate(427.82 232.90) scale(1.035 1)" fill="#000000" stroke="#000000" stroke-width="0.22"><text xml:space="preserve" x="-8.59" y="0.00" font-size="10.30">380</text></g>
<line x1="438.26" y1="217.10" x2="438.26" y2="219.50" stroke="#000000" stroke-width="1.2"/>
<line x1="448.70" y1="217.10" x2="448.70" y2="221.30" stroke="#000000" stroke-width="1.2"/>
<g transform="translate(448.70 232.90) scale(1.035 1)" fill="#000000" stroke="#000000" stroke-width="0.22"><text xml:space="preserve" x="-8.59" y="0.00" font-size="10.30">400</text></g>
<line x1="459.14" y1="217.10" x2="459.14" y2="219.50" stroke="#000000" stroke-width="1.2"/>
<line x1="469.58" y1="217.10" x2="469.58" y2="221.30" stroke="#000000" stroke-width="1.2"/>
<g transform="translate(469.58 232.90) scale(1.035 1)" fill="#000000" stroke="#000000" stroke-width="0.22"><text xml:space="preserve" x="-8.59" y="0.00" font-size="10.30">420</text></g>
<line x1="480.02" y1="217.10" x2="480.02" y2="219.50" stroke="#000000" stroke-width="1.2"/>
<line x1="490.46" y1="217.10" x2="490.46" y2="221.30" stroke="#000000" stroke-width="1.2"/>
<g transform="translate(490.46 232.90) scale(1.035 1)" fill="#000000" stroke="#000000" stroke-width="0.22"><text xml:space="preserve" x="-8.59" y="0.00" font-size="10.30">440</text></g>
<line x1="500.90" y1="217.10" x2="500.90" y2="219.50" stroke="#000000" stroke-width="1.2"/>
<line x1="511.34" y1="217.10" x2="511.34" y2="221.30" stroke="#000000" stroke-width="1.2"/>
<g transform="translate(511.34 232.90) scale(1.035 1)" fill="#000000" stroke="#000000" stroke-width="0.22"><text xml:space="preserve" x="-8.59" y="0.00" font-size="10.30">460</text></g>
<line x1="521.78" y1="217.10" x2="521.78" y2="219.50" stroke="#000000" stroke-width="1.2"/>
<line x1="532.22" y1="217.10" x2="532.22" y2="221.30" stroke="#000000" stroke-width="1.2"/>
<g transform="translate(532.22 232.90) scale(1.035 1)" fill="#000000" stroke="#000000" stroke-width="0.22"><text xml:space="preserve" x="-8.59" y="0.00" font-size="10.30">480</text></g>
<line x1="542.66" y1="217.10" x2="542.66" y2="219.50" stroke="#000000" stroke-width="1.2"/>
<line x1="553.10" y1="217.10" x2="553.10" y2="221.30" stroke="#000000" stroke-width="1.2"/>
<g transform="translate(553.10 232.90) scale(1.035 1)" fill="#000000" stroke="#000000" stroke-width="0.22"><text xml:space="preserve" x="-8.59" y="0.00" font-size="10.30">500</text></g>
<line x1="563.54" y1="217.10" x2="563.54" y2="219.50" stroke="#000000" stroke-width="1.2"/>
<line x1="573.98" y1="217.10" x2="573.98" y2="221.30" stroke="#000000" stroke-width="1.2"/>
<g transform="translate(573.98 232.90) scale(1.035 1)" fill="#000000" stroke="#000000" stroke-width="0.22"><text xml:space="preserve" x="-8.59" y="0.00" font-size="10.30">520</text></g>
<line x1="584.42" y1="217.10" x2="584.42" y2="219.50" stroke="#000000" stroke-width="1.2"/>
<line x1="594.86" y1="217.10" x2="594.86" y2="221.30" stroke="#000000" stroke-width="1.2"/>
<g transform="translate(594.86 232.90) scale(1.035 1)" fill="#000000" stroke="#000000" stroke-width="0.22"><text xml:space="preserve" x="-8.59" y="0.00" font-size="10.30">540</text></g>
<line x1="605.30" y1="217.10" x2="605.30" y2="219.50" stroke="#000000" stroke-width="1.2"/>
<line x1="615.74" y1="217.10" x2="615.74" y2="221.30" stroke="#000000" stroke-width="1.2"/>
<g transform="translate(615.74 232.90) scale(1.035 1)" fill="#000000" stroke="#000000" stroke-width="0.22"><text xml:space="preserve" x="-8.59" y="0.00" font-size="10.30">560</text></g>
<line x1="626.18" y1="217.10" x2="626.18" y2="219.50" stroke="#000000" stroke-width="1.2"/>
<line x1="636.62" y1="217.10" x2="636.62" y2="221.30" stroke="#000000" stroke-width="1.2"/>
<g transform="translate(636.62 232.90) scale(1.035 1)" fill="#000000" stroke="#000000" stroke-width="0.22"><text xml:space="preserve" x="-8.59" y="0.00" font-size="10.30">580</text></g>
<line x1="647.06" y1="217.10" x2="647.06" y2="219.50" stroke="#000000" stroke-width="1.2"/>
<line x1="657.50" y1="217.10" x2="657.50" y2="221.30" stroke="#000000" stroke-width="1.2"/>
<g transform="translate(657.50 232.90) scale(1.035 1)" fill="#000000" stroke="#000000" stroke-width="0.22"><text xml:space="preserve" x="-8.59" y="0.00" font-size="10.30">600</text></g>
<line x1="392.90" y1="217.10" x2="396.50" y2="217.10" stroke="#000000" stroke-width="1.2"/>
<g transform="translate(389.60 221.00) scale(1.08 1)" fill="#000000" stroke="#000000" stroke-width="0.22"><text xml:space="preserve" x="-14.32" y="0.00" font-size="10.30">0.0</text></g>
<line x1="394.50" y1="202.11" x2="396.50" y2="202.11" stroke="#000000" stroke-width="1.2"/>
<line x1="392.90" y1="187.13" x2="396.50" y2="187.13" stroke="#000000" stroke-width="1.2"/>
<g transform="translate(390.30 191.63) scale(1.08 1)" fill="#000000" stroke="#000000" stroke-width="0.22"><text xml:space="preserve" x="-34.66" y="0.00" font-size="10.30">5.0x10</text><text xml:space="preserve" transform="translate(-3.73 -3.60) scale(0.880 1)" font-size="7.62">7</text></g>
<line x1="394.50" y1="172.14" x2="396.50" y2="172.14" stroke="#000000" stroke-width="1.2"/>
<line x1="392.90" y1="157.16" x2="396.50" y2="157.16" stroke="#000000" stroke-width="1.2"/>
<g transform="translate(390.30 161.66) scale(1.08 1)" fill="#000000" stroke="#000000" stroke-width="0.22"><text xml:space="preserve" x="-34.66" y="0.00" font-size="10.30">1.0x10</text><text xml:space="preserve" transform="translate(-3.73 -3.60) scale(0.880 1)" font-size="7.62">8</text></g>
<line x1="394.50" y1="142.17" x2="396.50" y2="142.17" stroke="#000000" stroke-width="1.2"/>
<line x1="392.90" y1="127.19" x2="396.50" y2="127.19" stroke="#000000" stroke-width="1.2"/>
<g transform="translate(390.30 131.69) scale(1.08 1)" fill="#000000" stroke="#000000" stroke-width="0.22"><text xml:space="preserve" x="-34.66" y="0.00" font-size="10.30">1.5x10</text><text xml:space="preserve" transform="translate(-3.73 -3.60) scale(0.880 1)" font-size="7.62">8</text></g>
<line x1="394.50" y1="112.20" x2="396.50" y2="112.20" stroke="#000000" stroke-width="1.2"/>
<line x1="392.90" y1="97.21" x2="396.50" y2="97.21" stroke="#000000" stroke-width="1.2"/>
<g transform="translate(390.30 101.71) scale(1.08 1)" fill="#000000" stroke="#000000" stroke-width="0.22"><text xml:space="preserve" x="-34.66" y="0.00" font-size="10.30">2.0x10</text><text xml:space="preserve" transform="translate(-3.73 -3.60) scale(0.880 1)" font-size="7.62">8</text></g>
<line x1="394.50" y1="82.23" x2="396.50" y2="82.23" stroke="#000000" stroke-width="1.2"/>
<line x1="392.90" y1="67.24" x2="396.50" y2="67.24" stroke="#000000" stroke-width="1.2"/>
<g transform="translate(390.30 71.74) scale(1.08 1)" fill="#000000" stroke="#000000" stroke-width="0.22"><text xml:space="preserve" x="-34.66" y="0.00" font-size="10.30">2.5x10</text><text xml:space="preserve" transform="translate(-3.73 -3.60) scale(0.880 1)" font-size="7.62">8</text></g>
<line x1="394.50" y1="52.26" x2="396.50" y2="52.26" stroke="#000000" stroke-width="1.2"/>
<line x1="392.90" y1="37.27" x2="396.50" y2="37.27" stroke="#000000" stroke-width="1.2"/>
<g transform="translate(390.30 41.77) scale(1.08 1)" fill="#000000" stroke="#000000" stroke-width="0.22"><text xml:space="preserve" x="-34.66" y="0.00" font-size="10.30">3.0x10</text><text xml:space="preserve" transform="translate(-3.73 -3.60) scale(0.880 1)" font-size="7.62">8</text></g>
<line x1="394.50" y1="22.29" x2="396.50" y2="22.29" stroke="#000000" stroke-width="1.2"/>
<line x1="392.90" y1="7.30" x2="396.50" y2="7.30" stroke="#000000" stroke-width="1.2"/>
<g transform="translate(390.30 11.80) scale(1.08 1)" fill="#000000" stroke="#000000" stroke-width="0.22"><text xml:space="preserve" x="-34.66" y="0.00" font-size="10.30">3.5x10</text><text xml:space="preserve" transform="translate(-3.73 -3.60) scale(0.880 1)" font-size="7.62">8</text></g>
<g transform="translate(527.00 247.30) scale(1.045 1)" fill="#1c1c1c"><text xml:space="preserve" x="-46.29" y="0.00" font-size="12.40">Wavelength [nm]</text></g>
<g transform="translate(344.90 106.40) rotate(-90) scale(1.036 1)" fill="#000000" stroke="#000000" stroke-width="0.12"><text xml:space="preserve" x="-53.76" y="0.00" font-size="12.40">Intensity [arb. units]</text></g>
<g transform="translate(334.60 13.00)" fill="#000000" stroke="#000000" stroke-width="0.2"><text xml:space="preserve" x="0.00" y="0.00" font-size="12.80">(b)</text></g>
<g transform="translate(498.70 21.80) scale(1.08 1)" fill="#000000" stroke="#000000" stroke-width="0.1"><text xml:space="preserve" x="0.00" y="0.00" font-size="10.30">λ</text><text xml:space="preserve" x="5.15" y="2.58" font-size="7.21">em</text><text xml:space="preserve" x="15.17" y="0.00" font-size="10.30"> = 615 nm</text></g>
<g transform="translate(416.20 153.30) rotate(-90) scale(1.08 1)" fill="#000000" stroke="#000000" stroke-width="0.1"><text xml:space="preserve" transform="translate(0.00 -4.22) scale(0.930 1)" font-size="7.00">7</text><text xml:space="preserve" x="3.62" y="0.00" font-size="10.30">F</text><text xml:space="preserve" transform="translate(10.11 3.19) scale(0.930 1)" font-size="7.00">0</text><path d="M14.14,-2.52 L22.33,-2.52" fill="none" stroke="#2a2a2a" stroke-width="0.7"/><path d="M23.33,-2.52 L21.03,-3.77 L21.03,-1.27 Z" fill="#000000" stroke="none"/><text xml:space="preserve" transform="translate(23.83 -4.22) scale(0.930 1)" font-size="7.00">5</text><text xml:space="preserve" x="27.45" y="0.00" font-size="10.30">D</text><text xml:space="preserve" transform="translate(35.09 3.19) scale(0.930 1)" font-size="7.00">4</text></g>
<g transform="translate(434.90 136.00) rotate(-90) scale(1.08 1)" fill="#000000" stroke="#000000" stroke-width="0.1"><text xml:space="preserve" x="0.00" y="-4.22" font-size="7.00">7</text><text xml:space="preserve" x="3.90" y="0.00" font-size="10.30">F</text><text xml:space="preserve" x="10.19" y="3.19" font-size="7.00">0</text><path d="M14.48,-2.52 L22.68,-2.52" fill="none" stroke="#2a2a2a" stroke-width="0.7"/><path d="M23.68,-2.52 L21.38,-3.77 L21.38,-1.27 Z" fill="#000000" stroke="none"/><text xml:space="preserve" x="24.18" y="-4.22" font-size="7.00">5</text><text xml:space="preserve" x="28.07" y="0.00" font-size="10.30">L</text><text xml:space="preserve" x="33.80" y="3.19" font-size="7.00">7</text><text xml:space="preserve" x="37.70" y="0.00" font-size="10.30">,</text><text xml:space="preserve" x="40.86" y="-4.22" font-size="7.00">5</text><text xml:space="preserve" x="44.75" y="0.00" font-size="10.30">G</text><text xml:space="preserve" x="52.76" y="3.19" font-size="6.44">2-6</text></g>
<g transform="translate(455.90 64.60) rotate(-90) scale(1.08 1)" fill="#000000" stroke="#000000" stroke-width="0.1"><text xml:space="preserve" transform="translate(0.00 -4.22) scale(0.930 1)" font-size="7.00">7</text><text xml:space="preserve" x="3.62" y="0.00" font-size="10.30">F</text><text xml:space="preserve" transform="translate(10.11 3.19) scale(0.930 1)" font-size="7.00">0</text><path d="M14.14,-2.52 L22.33,-2.52" fill="none" stroke="#2a2a2a" stroke-width="0.7"/><path d="M23.33,-2.52 L21.03,-3.77 L21.03,-1.27 Z" fill="#000000" stroke="none"/><text xml:space="preserve" transform="translate(23.83 -4.22) scale(0.930 1)" font-size="7.00">5</text><text xml:space="preserve" x="27.45" y="0.00" font-size="10.30">L</text><text xml:space="preserve" transform="translate(33.38 3.19) scale(0.930 1)" font-size="7.00">6</text></g>
<g transform="translate(470.10 191.80) rotate(-90) scale(1.08 1)" fill="#000000" stroke="#000000" stroke-width="0.1"><text xml:space="preserve" transform="translate(0.00 -4.22) scale(0.930 1)" font-size="7.00">7</text><text xml:space="preserve" x="3.62" y="0.00" font-size="10.30">F</text><text xml:space="preserve" transform="translate(10.11 3.19) scale(0.930 1)" font-size="7.00">0</text><path d="M14.14,-2.52 L22.33,-2.52" fill="none" stroke="#2a2a2a" stroke-width="0.7"/><path d="M23.33,-2.52 L21.03,-3.77 L21.03,-1.27 Z" fill="#000000" stroke="none"/><text xml:space="preserve" transform="translate(23.83 -4.22) scale(0.930 1)" font-size="7.00">5</text><text xml:space="preserve" x="27.45" y="0.00" font-size="10.30">D</text><text xml:space="preserve" transform="translate(35.09 3.19) scale(0.930 1)" font-size="7.00">3</text></g>
<g transform="translate(521.90 149.00) rotate(-90) scale(1.08 1)" fill="#000000" stroke="#000000" stroke-width="0.1"><text xml:space="preserve" transform="translate(0.00 -4.22) scale(0.930 1)" font-size="7.00">7</text><text xml:space="preserve" x="3.62" y="0.00" font-size="10.30">F</text><text xml:space="preserve" transform="translate(10.11 3.19) scale(0.930 1)" font-size="7.00">0</text><path d="M14.14,-2.52 L22.33,-2.52" fill="none" stroke="#2a2a2a" stroke-width="0.7"/><path d="M23.33,-2.52 L21.03,-3.77 L21.03,-1.27 Z" fill="#000000" stroke="none"/><text xml:space="preserve" transform="translate(23.83 -4.22) scale(0.930 1)" font-size="7.00">5</text><text xml:space="preserve" x="27.45" y="0.00" font-size="10.30">D</text><text xml:space="preserve" transform="translate(35.09 3.19) scale(0.930 1)" font-size="7.00">2</text></g>
<g transform="translate(534.60 204.80) rotate(-90) scale(1.08 1)" fill="#000000" stroke="#000000" stroke-width="0.1"><text xml:space="preserve" transform="translate(0.00 -4.22) scale(0.930 1)" font-size="7.00">7</text><text xml:space="preserve" x="3.62" y="0.00" font-size="10.30">F</text><text xml:space="preserve" transform="translate(10.11 3.19) scale(0.930 1)" font-size="7.00">1</text><path d="M14.14,-2.52 L22.33,-2.52" fill="none" stroke="#2a2a2a" stroke-width="0.7"/><path d="M23.33,-2.52 L21.03,-3.77 L21.03,-1.27 Z" fill="#000000" stroke="none"/><text xml:space="preserve" transform="translate(23.83 -4.22) scale(0.930 1)" font-size="7.00">5</text><text xml:space="preserve" x="27.45" y="0.00" font-size="10.30">D</text><text xml:space="preserve" transform="translate(35.09 3.19) scale(0.930 1)" font-size="7.00">2</text></g>
<g transform="translate(582.60 193.70) rotate(-90) scale(1.08 1)" fill="#000000" stroke="#000000" stroke-width="0.1"><text xml:space="preserve" transform="translate(0.00 -4.22) scale(0.930 1)" font-size="7.00">7</text><text xml:space="preserve" x="3.62" y="0.00" font-size="10.30">F</text><text xml:space="preserve" transform="translate(10.11 3.19) scale(0.930 1)" font-size="7.00">0</text><path d="M14.14,-2.52 L22.33,-2.52" fill="none" stroke="#2a2a2a" stroke-width="0.7"/><path d="M23.33,-2.52 L21.03,-3.77 L21.03,-1.27 Z" fill="#000000" stroke="none"/><text xml:space="preserve" transform="translate(23.83 -4.22) scale(0.930 1)" font-size="7.00">5</text><text xml:space="preserve" x="27.45" y="0.00" font-size="10.30">D</text><text xml:space="preserve" transform="translate(35.09 3.19) scale(0.930 1)" font-size="7.00">1</text></g>
<g transform="translate(595.70 190.70) rotate(-90) scale(1.08 1)" fill="#000000" stroke="#000000" stroke-width="0.1"><text xml:space="preserve" transform="translate(0.00 -4.22) scale(0.930 1)" font-size="7.00">7</text><text xml:space="preserve" x="3.62" y="0.00" font-size="10.30">F</text><text xml:space="preserve" transform="translate(10.11 3.19) scale(0.930 1)" font-size="7.00">1</text><path d="M14.14,-2.52 L22.33,-2.52" fill="none" stroke="#2a2a2a" stroke-width="0.7"/><path d="M23.33,-2.52 L21.03,-3.77 L21.03,-1.27 Z" fill="#000000" stroke="none"/><text xml:space="preserve" transform="translate(23.83 -4.22) scale(0.930 1)" font-size="7.00">5</text><text xml:space="preserve" x="27.45" y="0.00" font-size="10.30">D</text><text xml:space="preserve" transform="translate(35.09 3.19) scale(0.930 1)" font-size="7.00">1</text></g>
<g transform="translate(638.40 206.50) rotate(-90) scale(1.08 1)" fill="#000000" stroke="#000000" stroke-width="0.1"><text xml:space="preserve" transform="translate(0.00 -4.22) scale(0.930 1)" font-size="7.00">7</text><text xml:space="preserve" x="3.62" y="0.00" font-size="10.30">F</text><text xml:space="preserve" transform="translate(10.11 3.19) scale(0.930 1)" font-size="7.00">0</text><path d="M14.14,-2.52 L22.33,-2.52" fill="none" stroke="#2a2a2a" stroke-width="0.7"/><path d="M23.33,-2.52 L21.03,-3.77 L21.03,-1.27 Z" fill="#000000" stroke="none"/><text xml:space="preserve" transform="translate(23.83 -4.22) scale(0.930 1)" font-size="7.00">5</text><text xml:space="preserve" x="27.45" y="0.00" font-size="10.30">D</text><text xml:space="preserve" transform="translate(35.09 3.19) scale(0.930 1)" font-size="7.00">0</text></g>
<g transform="translate(651.30 204.90) rotate(-90) scale(1.08 1)" fill="#000000" stroke="#000000" stroke-width="0.1"><text xml:space="preserve" transform="translate(0.00 -4.22) scale(0.930 1)" font-size="7.00">7</text><text xml:space="preserve" x="3.62" y="0.00" font-size="10.30">F</text><text xml:space="preserve" transform="translate(10.11 3.19) scale(0.930 1)" font-size="7.00">1</text><path d="M14.14,-2.52 L22.33,-2.52" fill="none" stroke="#2a2a2a" stroke-width="0.7"/><path d="M23.33,-2.52 L21.03,-3.77 L21.03,-1.27 Z" fill="#000000" stroke="none"/><text xml:space="preserve" transform="translate(23.83 -4.22) scale(0.930 1)" font-size="7.00">5</text><text xml:space="preserve" x="27.45" y="0.00" font-size="10.30">D</text><text xml:space="preserve" transform="translate(35.09 3.19) scale(0.930 1)" font-size="7.00">0</text></g>
</svg>
</body></html>
